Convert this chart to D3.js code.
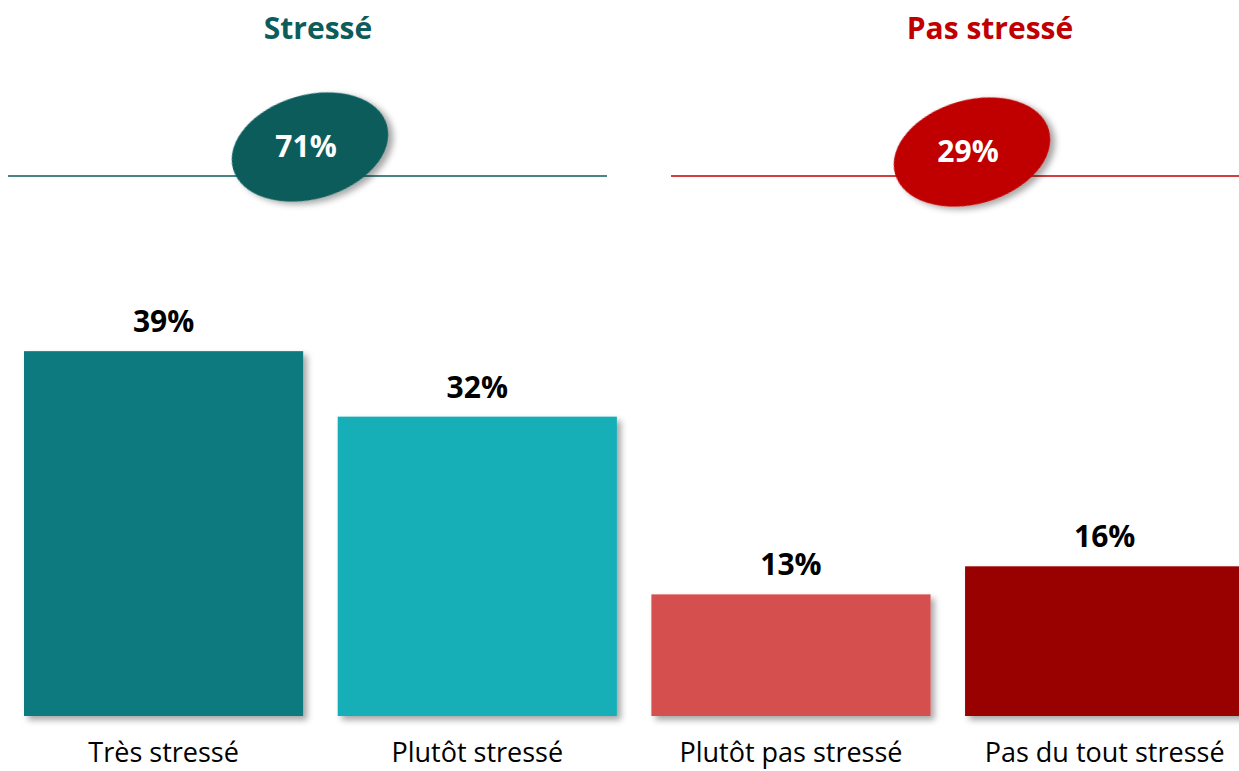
<!DOCTYPE html>
<html>
<head>
<meta charset="utf-8">
<script src="https://cdn.jsdelivr.net/npm/d3@7"></script>
<style>
  body { margin: 0; background: #fff; overflow: hidden; }
  text { font-family: "Open Sans", "Noto Sans", sans-serif; }
</style>
</head>
<body>
<script>
// chart data
var categories = ["Très stressé", "Plutôt stressé", "Plutôt pas stressé", "Pas du tout stressé"];
var values = [39, 32, 13, 16];
var barColors = ["#107A80", "#14AFB7", "#D64F50", "#990000"];

var groups = ["Stressé", "Pas stressé"];
var groupTotals = [71, 29];
var groupColors = ["#0D5C5C", "#C00000"];

var w = 1239;
var h = 771;

var svg = d3.select("body")
            .append("svg")
            .attr("width", w)
            .attr("height", h);

// drop shadow used by bars and ellipses
var defs = svg.append("defs");
var shadow = defs.append("filter")
                 .attr("id", "shadow")
                 .attr("x", "-20%").attr("y", "-20%")
                 .attr("width", "150%").attr("height", "150%");
shadow.append("feDropShadow")
      .attr("dx", 4).attr("dy", 4)
      .attr("stdDeviation", 3)
      .attr("flood-color", "#000")
      .attr("flood-opacity", 0.35);

// scales
var xScale = d3.scaleBand()
               .domain(categories)
               .range([6.75, 1261.5])
               .paddingInner(0.11)
               .paddingOuter(0.055);

var yScale = d3.scaleLinear()
               .domain([0, 10])
               .range([716, 622.45]);

// bars
svg.selectAll(".bar")
   .data(values)
   .enter()
   .append("rect")
   .attr("class", "bar")
   .attr("x", function(d, i) { return xScale(categories[i]); })
   .attr("y", function(d) { return yScale(d); })
   .attr("width", xScale.bandwidth())
   .attr("height", function(d) { return yScale(0) - yScale(d); })
   .attr("fill", function(d, i) { return barColors[i]; })
   .attr("filter", "url(#shadow)");

// value labels
svg.selectAll(".val")
   .data(values)
   .enter()
   .append("text")
   .attr("class", "val")
   .attr("x", function(d, i) { return xScale(categories[i]) + xScale.bandwidth() / 2; })
   .attr("y", function(d) { return yScale(d) - 19; })
   .attr("text-anchor", "middle")
   .attr("font-size", "30px")
   .attr("font-weight", "bold")
   .attr("fill", "#000")
   .text(function(d) { return d + "%"; });

// category labels
svg.selectAll(".cat")
   .data(categories)
   .enter()
   .append("text")
   .attr("class", "cat")
   .attr("x", function(d) { return xScale(d) + xScale.bandwidth() / 2; })
   .attr("y", 762)
   .attr("text-anchor", "middle")
   .attr("font-size", "27px")
   .attr("fill", "#000")
   .text(function(d) { return d; });

// group headers, lines and ellipses
var headerX = [318, 990];
var lineX = [[8, 607], [671, 1239]];
var ellipseC = [[310, 147], [972, 152]];

groups.forEach(function(g, i) {
  svg.append("text")
     .attr("x", headerX[i])
     .attr("y", 39)
     .attr("text-anchor", "middle")
     .attr("font-size", "30px")
     .attr("font-weight", "bold")
     .attr("fill", groupColors[i])
     .text(g);

  svg.append("line")
     .attr("x1", lineX[i][0])
     .attr("x2", lineX[i][1])
     .attr("y1", 176)
     .attr("y2", 176)
     .attr("stroke", groupColors[i])
     .attr("stroke-width", 1.5);

  svg.append("ellipse")
     .attr("transform", "translate(" + ellipseC[i][0] + "," + ellipseC[i][1] + ") rotate(-16)")
     .attr("rx", 80)
     .attr("ry", 52)
     .attr("fill", groupColors[i])
     .attr("filter", "url(#shadow)");

  svg.append("text")
     .attr("x", ellipseC[i][0] - 4)
     .attr("y", ellipseC[i][1] + 10)
     .attr("text-anchor", "middle")
     .attr("font-size", "30px")
     .attr("font-weight", "bold")
     .attr("fill", "#fff")
     .text(groupTotals[i] + "%");
});
</script>
</body>
</html>
